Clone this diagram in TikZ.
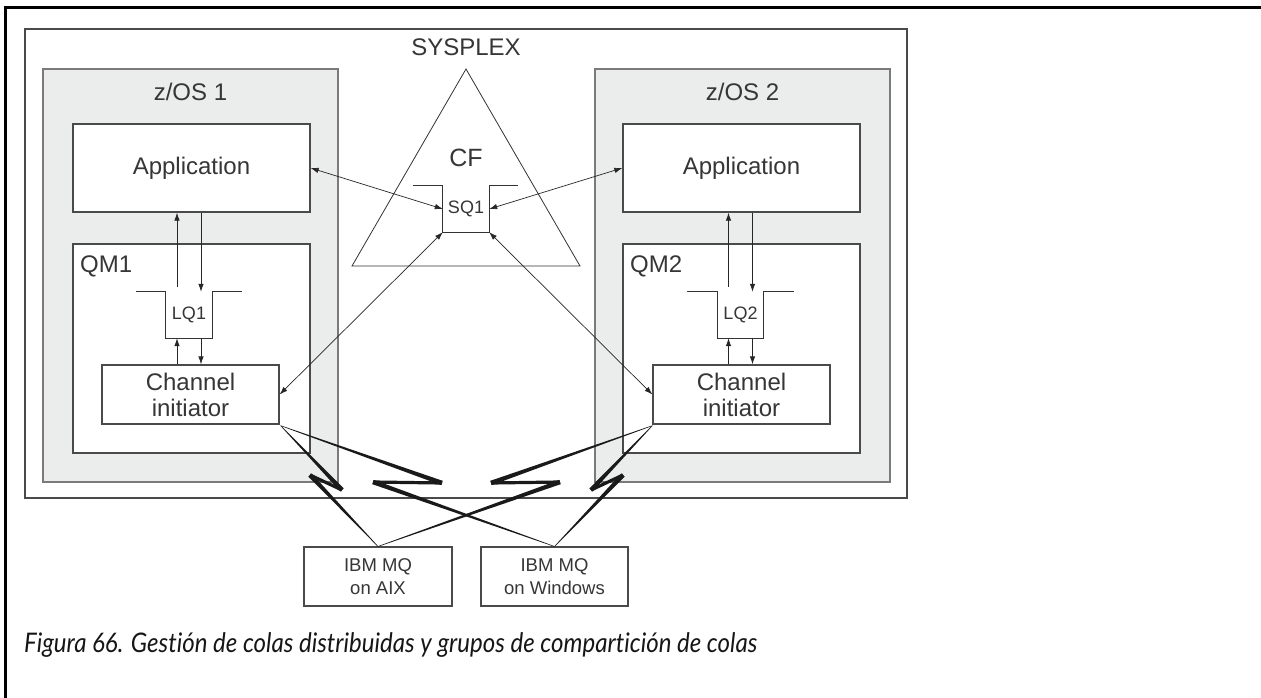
\documentclass[tikz,border=0pt]{standalone}
\usepackage{fontspec}
\usepackage{graphicx}
\setmainfont{Liberation Sans}
\newfontfamily\capfont[Ligatures=NoCommon]{Lato}
\usetikzlibrary{calc,arrows.meta}
\definecolor{txt}{HTML}{363636}
\definecolor{bd}{HTML}{4A4A4A}
\definecolor{zbd}{HTML}{7A7A7A}
\definecolor{zfill}{HTML}{EBECEC}
\definecolor{capc}{HTML}{161616}
\definecolor{boltc}{HTML}{1A1A1A}
\tikzset{
  box/.style={draw=bd, line width=1.3pt, fill=white, inner sep=0pt, text=txt,
    font=\fontsize{24}{26}\selectfont, align=center},
  zos/.style={draw=zbd, line width=1.6pt, fill=zfill, inner sep=0pt},
  lbl/.style={text=txt, font=\fontsize{24}{26}\selectfont, inner sep=0pt},
  smallbox/.style={draw=bd, line width=1.1pt, fill=white, inner sep=0pt, text=txt,
    font=\fontsize{18.5}{23}\selectfont, align=center},
  queue/.style={inner sep=0pt, minimum width=46pt, minimum height=46pt, text=txt,
    font=\fontsize{18}{20}\selectfont},
  qline/.style={draw=black!80, line width=1.2pt},
  arr/.style={draw=black!85, line width=0.8pt, -{Latex[length=8pt,width=5.5pt]}},
  darr/.style={draw=black!85, line width=0.7pt,
    {Latex[length=8pt,width=5.5pt]}-{Latex[length=8pt,width=5.5pt]}},
}
\newcommand{\wedgeseg}[4]{\fill[boltc] ($(#1)!#3!90:(#2)$) -- ($(#2)!#4!-90:(#1)$) -- ($(#2)!#4!90:(#1)$) -- ($(#1)!#3!-90:(#2)$) -- cycle;}
\newcommand{\boltpath}[4]{%
  \wedgeseg{#1}{#2}{0.25pt}{2.3pt}%
  \wedgeseg{#2}{#3}{1.6pt}{1.6pt}%
  \wedgeseg{#3}{#4}{2.3pt}{0.25pt}}
\begin{document}
\begin{tikzpicture}[x=1pt,y=-1pt]
\useasboundingbox (0,0) rectangle (1261,698);
\fill[white] (0,0) rectangle (1261,698);
% page frame
\coordinate (fr1) at (1261,8);
\coordinate (fr2) at (5.5,8);
\coordinate (fr3) at (5.5,698);
\draw[line width=3pt,black] (fr1) -- (fr2) -- (fr3);
% sysplex
\node[draw=bd,line width=1.5pt,minimum width=882pt,minimum height=469pt,inner sep=0pt] (sysplex) at (466,263.5) {};
\node[lbl] (syslbl) at (466,47) {SYSPLEX};
% z/OS boxes
\node[zos,minimum width=295pt,minimum height=413pt] (zos1) at (190.5,275.5) {};
\node[zos,minimum width=295pt,minimum height=413pt] (zos2) at (742.5,275.5) {};
\node[lbl] (zos1l) at (190.5,92) {z/OS 1};
\node[lbl] (zos2l) at (742.5,92) {z/OS 2};
% applications
\node[box,minimum width=237pt,minimum height=88pt] (app1) at (191.5,168) {Application};
\node[box,minimum width=237pt,minimum height=88pt] (app2) at (741.5,168) {Application};
% queue managers
\node[box,minimum width=237pt,minimum height=209pt] (qm1) at (191.5,348.5) {};
\node[box,minimum width=237pt,minimum height=209pt] (qm2) at (741.5,348.5) {};
\node[lbl,anchor=base west] (qm1l) at (80,272) {QM1};
\node[lbl,anchor=base west] (qm2l) at (630,272) {QM2};
% channel initiators
\node[box,minimum width=177pt,minimum height=59pt] (ci1) at (190.5,394.5) {Channel\\initiator};
\node[box,minimum width=177pt,minimum height=59pt] (ci2) at (741.5,394.5) {Channel\\initiator};
% local queues
\node[queue] (lq1) at (189,315) {LQ1};
\node[queue] (lq2) at (740.5,315) {LQ2};
\foreach \q in {lq1,lq2}{
  \draw[qline] ($(\q.north west)+(-30,0)$) -- (\q.north west) -- (\q.south west) -- (\q.south east) -- (\q.north east) -- ($(\q.north east)+(30,0)$);
}
% CF triangle
\coordinate (ta) at (352,266);
\coordinate (tb) at (466,69);
\coordinate (tc) at (580,266);
\draw[draw=black!80,line width=0.8pt] (ta) -- (tb) -- (tc) -- cycle;
\node[lbl,font=\fontsize{25}{27}\selectfont] (cf) at (466,157.5) {CF};
\node[queue] (sq1) at (466,209) {SQ1};
\draw[qline] ($(sq1.north west)+(-30,0)$) -- (sq1.north west) -- (sq1.south west) -- (sq1.south east) -- (sq1.north east) -- ($(sq1.north east)+(29,0)$);
% vertical arrows
\foreach \q/\a/\c in {lq1/app1/ci1,lq2/app2/ci2}{
  \coordinate (up1) at ($(\q.north)+(-12,-5)$);
  \coordinate (dn1) at ($(\q.north)+(12,0)$);
  \coordinate (up2) at ($(\q.south)+(-12,0)$);
  \coordinate (dn2) at ($(\q.south)+(12,0)$);
  \draw[arr] (up1) -- (up1 |- \a.south);
  \draw[arr] (dn1 |- \a.south) -- (dn1);
  \draw[arr] (up2 |- \c.north) -- (up2);
  \draw[arr] (dn2) -- (dn2 |- \c.north);
}
% diagonal arrows
\draw[darr] (app1.east) -- (sq1.west);
\draw[darr] (app2.west) -- (sq1.east);
\draw[darr] (ci1.east) -- (sq1.south west);
\draw[darr] (ci2.west) -- (sq1.south east);
% remote queue managers
\node[smallbox,minimum width=148pt,minimum height=59pt] (aix) at (378,576.5) {IBM MQ\\on AIX};
\node[smallbox,minimum width=147pt,minimum height=59pt] (win) at (554.5,576.5) {IBM MQ\\on Windows};
% lightning links
\coordinate (s1) at ($(ci1.south east)+(1,1)$);
\coordinate (s2) at ($(ci2.south west)+(0,1)$);
\coordinate (e1) at (aix.north);
\coordinate (e2) at (win.north);
\coordinate (t1) at (342,490); \coordinate (k1) at (310,475);
\coordinate (t2) at (442,483); \coordinate (k2) at (373,482);
\coordinate (t3) at (591,490); \coordinate (k3) at (623,475);
\coordinate (t4) at (491,483); \coordinate (k4) at (560,482);
\boltpath{s1}{t1}{k1}{e1}
\boltpath{s1}{t2}{k2}{e2}
\boltpath{s2}{t3}{k3}{e2}
\boltpath{s2}{t4}{k4}{e1}
% caption
\node[anchor=base west,inner sep=0pt,text=capc,font=\capfont\itshape\fontsize{27}{29}\selectfont] (cap) at (24,652)
  {\resizebox{733pt}{\height}{Figura 66. Gestión de colas distribuidas y grupos de compartición de colas}};
\end{tikzpicture}
\end{document}
